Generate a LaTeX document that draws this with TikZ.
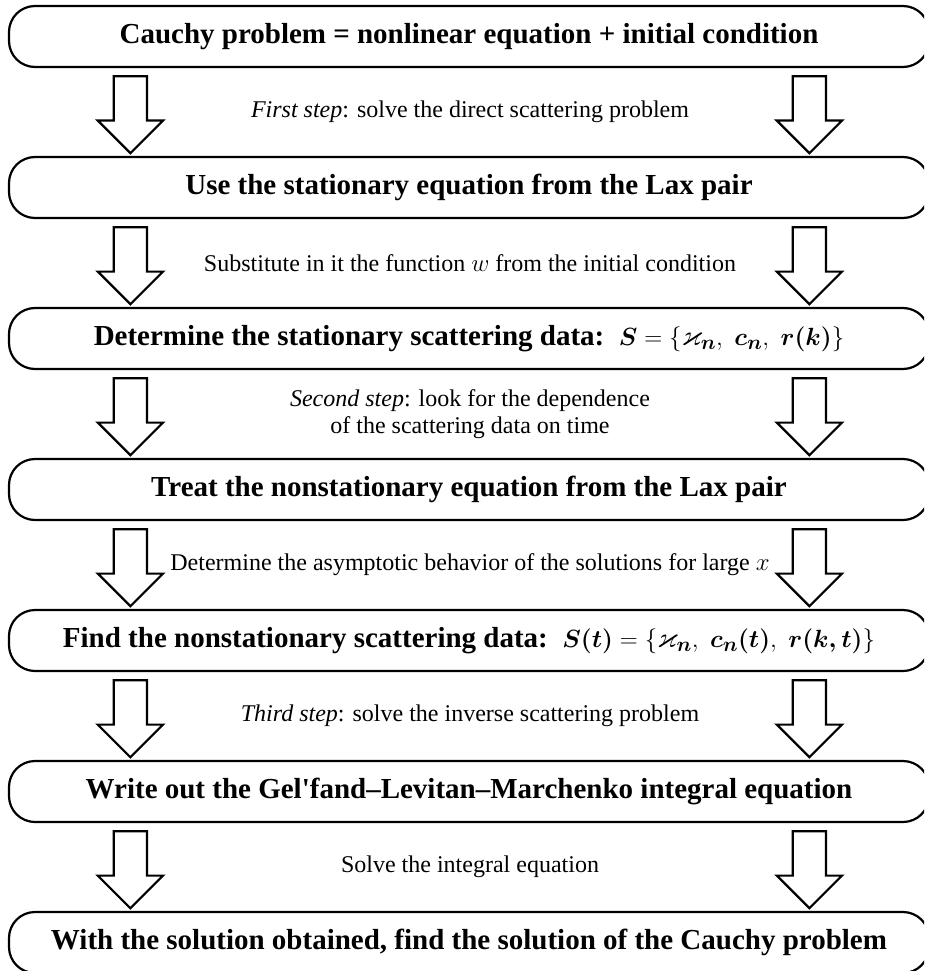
\documentclass[tikz,border=0pt]{standalone}
\usepackage{amsmath,amssymb}
\usepackage[no-math]{fontspec}
\setmainfont{Liberation Serif}
\usetikzlibrary{shapes.arrows,calc}
\tikzset{
  stagebox/.style={draw=black, line width=2.2pt, rounded corners=26pt, minimum width=920pt, minimum height=61pt, inner sep=0pt,
    font=\fontsize{29}{34}\selectfont\bfseries, text=black},
  fatarrow/.style={draw=black, line width=2.2pt, fill=white, single arrow, rotate=-90, minimum height=77pt, minimum width=63pt,
    single arrow head extend=16pt, single arrow head indent=0pt, inner xsep=0pt, inner ysep=15.5pt},
  steplabel/.style={font=\fontsize{24}{27}\selectfont, align=center, text=black, inner sep=0pt}
}
\begin{document}
\begin{tikzpicture}[x=1pt,y=-1pt]
\useasboundingbox (0,0) rectangle (924,971);
\clip (0,0) rectangle (924,971);
\node[stagebox] (b1) at (469,36.5) {Cauchy problem = nonlinear equation + initial condition};
\node[stagebox] (b2) at (469,187.5) {Use the stationary equation from the Lax pair};
\node[stagebox] (b3) at (469,338.5) {Determine the stationary scattering data:\ \ $\boldsymbol{S}=\{\varkappa_{\boldsymbol{n}},\ \boldsymbol{c_n},\ \boldsymbol{r(k)}\}$};
\node[stagebox] (b4) at (469,489.5) {Treat the nonstationary equation from the Lax pair};
\node[stagebox] (b5) at (469,640.5) {Find the nonstationary scattering data:\ \ $\boldsymbol{S(t)}=\{\varkappa_{\boldsymbol{n}},\ \boldsymbol{c_n(t)},\ \boldsymbol{r(k,t)}\}$};
\node[stagebox] (b6) at (469,791.5) {Write out the Gel\textquotesingle fand--Levitan--Marchenko integral equation};
\node[stagebox] (b7) at (469,942.5) {With the solution obtained, find the solution of the Cauchy problem};
\foreach \a/\b in {b1/b2,b2/b3,b3/b4,b4/b5,b5/b6,b6/b7}{
  \node[fatarrow, anchor=tail] (\a L) at ($(\a.south west)+(122.5,7)$) {};
  \node[fatarrow, anchor=tail] (\a R) at ($(\a.south west)+(801.5,7)$) {};
}
\node[steplabel] (l1) at ($(b1.south)!0.5!(b2.north)+(1,0)$) {\textit{First step}: solve the direct scattering problem};
\node[steplabel] (l2) at ($(b2.south)!0.5!(b3.north)+(1,0)$) {Substitute in it the function $w$ from the initial condition};
\node[steplabel] (l3) at ($(b3.south)!0.5!(b4.north)+(1,0)$) {\textit{Second step}: look for the dependence\\ of the scattering data on time};
\node[steplabel] (l4) at ($(b4.south)!0.5!(b5.north)+(1,0)$) {Determine the asymptotic behavior of the solutions for large $x$};
\node[steplabel] (l5) at ($(b5.south)!0.5!(b6.north)+(1,0)$) {\textit{Third step}: solve the inverse scattering problem};
\node[steplabel] (l6) at ($(b6.south)!0.5!(b7.north)+(1,0)$) {Solve the integral equation};
\end{tikzpicture}
\end{document}
